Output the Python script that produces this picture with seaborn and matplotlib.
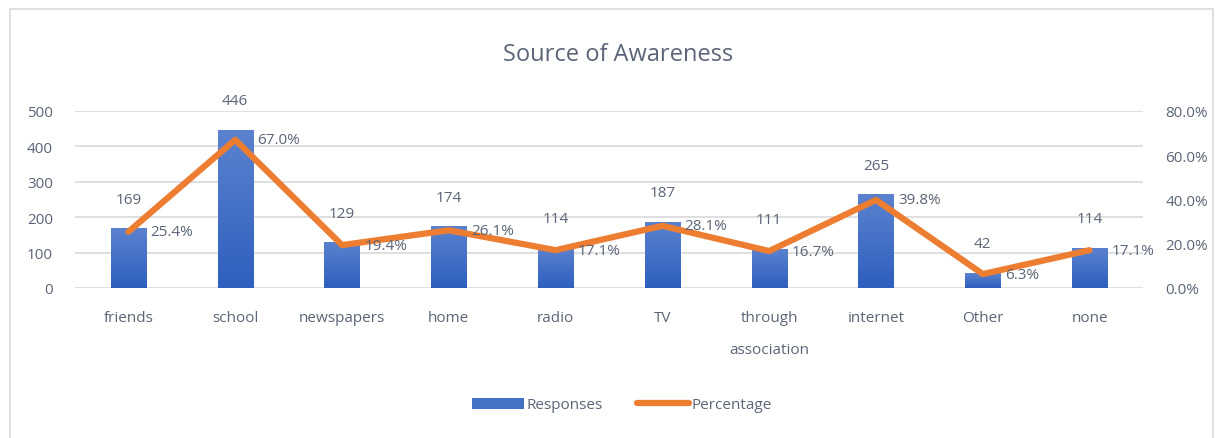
import numpy as np
import pandas as pd
import matplotlib
matplotlib.use("Agg")
import matplotlib.pyplot as plt
from matplotlib.patches import Rectangle, Patch
from matplotlib.lines import Line2D
from matplotlib.ticker import FuncFormatter
import seaborn as sns

# data
categories = ["friends", "school", "newspapers", "home", "radio", "TV",
              "through\nassociation", "internet", "Other", "none"]
responses = [169, 446, 129, 174, 114, 187, 111, 265, 42, 114]
percentage = [25.4, 67.0, 19.4, 26.1, 17.1, 28.1, 16.7, 39.8, 6.3, 17.1]

df = pd.DataFrame({"cat": categories, "resp": responses, "pct": percentage})

sns.set_theme(style="white")
plt.rcParams["font.family"] = ["Open Sans", "DejaVu Sans"]
txt = "#5B6577"
blue = "#4472C4"
orange = "#ED7D31"

W, H = 1221, 439
fig = plt.figure(figsize=(W / 100, H / 100), dpi=100)
ax = fig.add_axes([75 / W, (H - 289) / H, 1068 / W, 177 / H])

# outer chart frame
fig.patches.append(Rectangle((10 / W, -0.05), 1203 / W, (H - 10) / H + 0.05,
                             transform=fig.transFigure, fill=False,
                             edgecolor="#D9D9D9", linewidth=1.2))

sns.barplot(data=df, x="cat", y="resp", color=blue, width=0.33,
            saturation=1, ax=ax, zorder=2)

# gradient fill on bars (lighter at top)
grad = np.linspace(0, 1, 256).reshape(-1, 1)
cmap = matplotlib.colors.LinearSegmentedColormap.from_list("g", ["#2E5FBE", "#5B82CF"])
for p in ax.patches:
    x0, y0 = p.get_x(), p.get_y()
    w, h = p.get_width(), p.get_height()
    im = ax.imshow(grad, extent=[x0, x0 + w, y0, y0 + h], origin="lower",
                   cmap=cmap, aspect="auto", zorder=2)
    im.set_clip_path(p)
    p.set_facecolor("none")
    p.set_edgecolor("none")

ax.set_ylim(0, 500)
ax.set_xlim(-0.5, len(categories) - 0.5)
ax.set_yticks(range(0, 501, 100))
ax.yaxis.grid(True, color="#D9D9D9", linewidth=1.2)
ax.set_axisbelow(True)
for s in ax.spines.values():
    s.set_visible(False)
ax.set_xlabel("")
ax.set_ylabel("")
ax.tick_params(axis="y", colors=txt, labelsize=11, pad=16, length=0)
ax.tick_params(axis="x", colors=txt, labelsize=11, pad=16, length=0)
for lab in ax.get_xticklabels():
    lab.set_linespacing(2.5)
    lab.set_verticalalignment("top")

for i, v in enumerate(responses):
    ax.annotate(str(v), (i, v), xytext=(0, 21), textcoords="offset points",
                ha="center", va="center", color=txt, fontsize=11)

ax2 = ax.twinx()
sns.lineplot(x=list(range(len(categories))), y=percentage, color=orange,
             linewidth=4.5, ax=ax2, sort=False, zorder=3)
for l in ax2.lines:
    l.set_solid_capstyle("round")
    l.set_solid_joinstyle("round")
ax2.set_ylim(0, 80)
ax2.set_yticks(range(0, 81, 20))
ax2.yaxis.set_major_formatter(FuncFormatter(lambda v, _: f"{v:.1f}%"))
ax2.tick_params(axis="y", colors=txt, labelsize=11, pad=16, length=0)
ax2.grid(False)
for s in ax2.spines.values():
    s.set_visible(False)
for i, v in enumerate(percentage):
    ax2.annotate(f"{v:.1f}%", (i, v), xytext=(16, 0), textcoords="offset points",
                 ha="left", va="center", color=txt, fontsize=11)

fig.text(618 / W, 1 - 55 / H, "Source of Awareness", ha="center", va="center",
         color=txt, fontsize=17)

handles = [Patch(facecolor=blue, edgecolor="none"),
           Line2D([0], [0], color=orange, linewidth=4.5, solid_capstyle="round")]
fig.legend(handles, ["Responses", "Percentage"], loc="center",
           bbox_to_anchor=(622 / W, 1 - 406 / H), ncol=2, frameon=False,
           fontsize=11, labelcolor=txt, handlelength=3.4, handletextpad=0.2,
           columnspacing=2.2)

fig.savefig("out.png", dpi=100)
